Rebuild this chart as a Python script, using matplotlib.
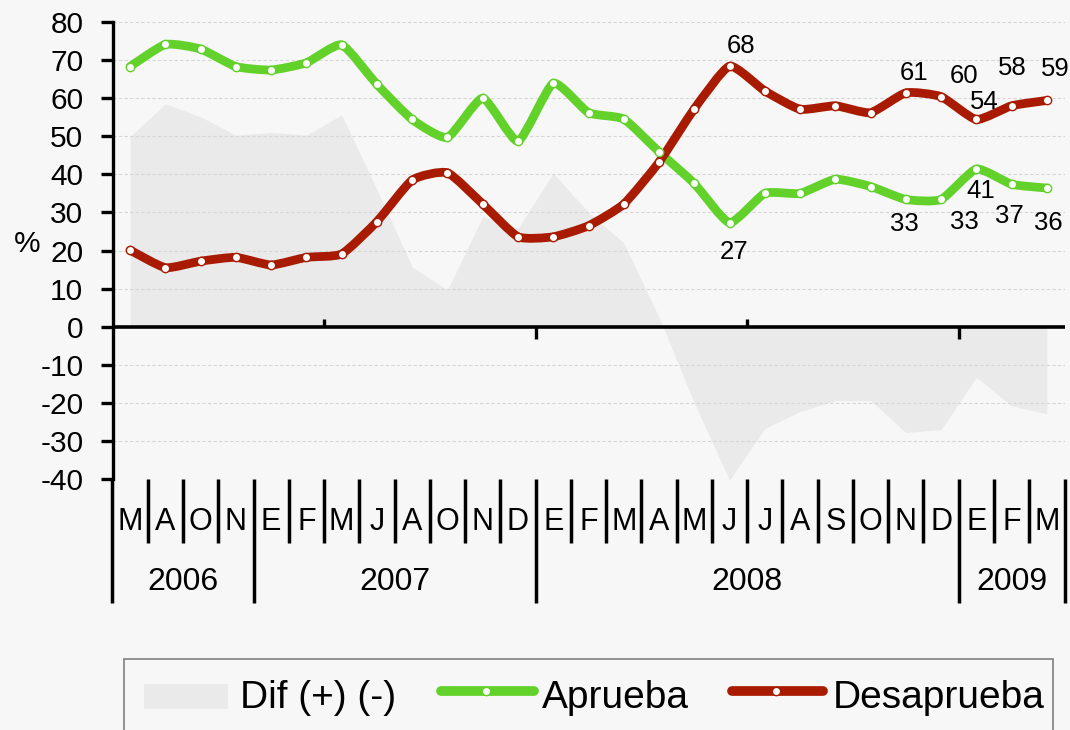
import numpy as np
import matplotlib
matplotlib.use("Agg")
import matplotlib.pyplot as plt
from matplotlib.path import Path
from matplotlib.patches import PathPatch, Rectangle
from matplotlib.lines import Line2D
from matplotlib.transforms import blended_transform_factory

plt.rcParams['font.family'] = ['Liberation Sans', 'DejaVu Sans']
plt.rcParams['axes.unicode_minus'] = False

# donnees
meses = ["M", "A", "O", "N", "E", "F", "M", "J", "A", "O", "N", "D",
         "E", "F", "M", "A", "M", "J", "J", "A", "S", "O", "N", "D",
         "E", "F", "M"]
anios = ["2006", "2007", "2008", "2009"]
meses_por_anio = [4, 8, 12, 3]

aprueba = [68.3, 74.1, 72.9, 68.3, 67.4, 69.3, 74.0, 63.6, 54.4, 49.7, 60.0, 48.7,
           63.9, 56.2, 54.5, 45.9, 37.6, 27.3, 35.0, 35.0, 38.7, 36.8, 33.4, 33.4,
           41.4, 37.4, 36.4]
desaprueba = [20.1, 15.5, 17.2, 18.2, 16.2, 18.2, 19.1, 27.6, 38.5, 40.4, 32.2, 23.6,
              23.6, 26.5, 32.2, 43.2, 57.2, 68.4, 61.9, 57.1, 58.0, 56.2, 61.4, 60.4,
              54.4, 58.0, 59.4]
dif = [49.9, 58.5, 55.1, 50.3, 51.0, 50.3, 55.6, 36.0, 15.7, 9.6, 28.9, 25.8,
       40.3, 30.0, 22.0, 2.5, -20.0, -40.3, -26.7, -22.3, -19.4, -19.4, -27.8, -27.0,
       -13.3, -20.8, -22.9]

# points etiquetes (index des mois)
etiq_idx = [17, 22, 23, 24, 25, 26]

VERT = '#62d22a'
ROUGE = '#a81b00'
GRIS = '#eaeaea'
FOND = '#f7f7f7'


def courbe_lisse(x, y, t=0.09):
    # courbe de Bezier type "ligne lissee" d'Excel
    n = len(x)
    verts = [(x[0], y[0])]
    codes = [Path.MOVETO]
    for i in range(n - 1):
        xa, ya = (x[i - 1], y[i - 1]) if i > 0 else (x[i], y[i])
        xd, yd = (x[i + 2], y[i + 2]) if i + 2 < n else (x[i + 1], y[i + 1])
        c1 = (x[i] + (x[i + 1] - xa) * t, y[i] + (y[i + 1] - ya) * t)
        c2 = (x[i + 1] - (xd - x[i]) * t, y[i + 1] - (yd - y[i]) * t)
        verts += [c1, c2, (x[i + 1], y[i + 1])]
        codes += [Path.CURVE4] * 3
    return Path(verts, codes)


W, H = 1070, 730
fig = plt.figure(figsize=(W / 100, H / 100), dpi=100, facecolor=FOND)
ax = fig.add_axes([112.5 / W, 1 - 479 / H, (1064.5 - 112.5) / W, (479 - 22) / H])
ax.set_facecolor(FOND)

x = np.arange(len(meses))
ax.set_xlim(-0.5, len(meses) - 0.5)
ax.set_ylim(-40, 80)

# zone "Dif"
ax.fill_between(x, 0, dif, color=GRIS, lw=0, zorder=0.8)

# grille
for v in range(-40, 90, 10):
    if v != 0:
        ax.axhline(v, color='#d6d6d6', lw=0.8, ls=(0, (3, 2)), zorder=1)

ax.axhline(0, color='black', lw=2.6, zorder=1.6)
ax.vlines([5.5, 17.5], 0, 2.1, color='black', lw=2.4, zorder=1.6)
ax.vlines([11.5, 23.5], -3.2, 0, color='black', lw=2.4, zorder=1.6)

for serie, col in [(aprueba, VERT), (desaprueba, ROUGE)]:
    ax.add_patch(PathPatch(courbe_lisse(x, serie), facecolor='none', edgecolor=col,
                           lw=6.3, capstyle='round', joinstyle='round', zorder=3))
    ax.plot(x, serie, 'o', ms=6, mfc='white', mec=col, mew=1.0, zorder=4)

# etiquettes de donnees
dec_rouge = [(12, 13), (8, 13), (23, 14), (8, 10), (1, 31), (8, 24)]
dec_vert = [(5, -36), (-1, -32), (23, -30), (4, -29), (-2, -39), (1, -42)]
for k, i in enumerate(etiq_idx):
    ax.annotate(f"{round(desaprueba[i])}", (i, desaprueba[i]), xytext=dec_rouge[k],
                textcoords='offset pixels', ha='center', va='baseline', fontsize=18.5, zorder=5)
    ax.annotate(f"{round(aprueba[i])}", (i, aprueba[i]), xytext=dec_vert[k],
                textcoords='offset pixels', ha='center', va='baseline', fontsize=18.5, zorder=5)

# axes
for s in ['top', 'right', 'bottom']:
    ax.spines[s].set_visible(False)
ax.spines['left'].set_linewidth(2.4)
ax.set_yticks(range(-40, 90, 10))
ax.tick_params(axis='y', direction='out', length=9.0, width=2.4, pad=12, labelsize=21.5)
ax.set_xticks([])

fig.text(27.5 / W, 1 - 244 / H, '%', fontsize=21.5, ha='center', va='center')

# axe des categories en deux niveaux
tr = blended_transform_factory(ax.transData, fig.transFigure)
y_bas = 1 - 479 / H
y_mois = 1 - 543 / H
y_an = 1 - 603 / H
bornes_an = np.cumsum([0] + meses_por_anio) - 0.5
for b in np.arange(len(meses) + 1) - 0.5:
    y_fin = y_an if b in bornes_an else y_mois
    ax.add_line(Line2D([b, b], [y_bas, y_fin], transform=tr, color='black', lw=2.5,
                       clip_on=False, solid_capstyle='butt'))
for i, m in enumerate(meses):
    ax.text(i, 1 - 530 / H, m, transform=tr, ha='center', va='baseline', fontsize=22)
for k, a in enumerate(anios):
    ax.text((bornes_an[k] + bornes_an[k + 1]) / 2, 1 - 590 / H, a, transform=tr,
            ha='center', va='baseline', fontsize=23)

# legende
fig.patches.append(Rectangle((123.5 / W, -0.05), (1053 - 123.5) / W, 0.05 + 1 - 659 / H,
                             transform=fig.transFigure, facecolor='none',
                             edgecolor='#7f7f7f', lw=1.2))
fig.patches.append(Rectangle((143.7 / W, 1 - 709 / H), (228 - 143.7) / W, 25 / H,
                             transform=fig.transFigure, facecolor=GRIS, lw=0))
y_leg = 1 - 691 / H
for x0, x1, xm, col in [(440.7, 533.7, 486, VERT), (731.5, 823, 776, ROUGE)]:
    fig.lines.append(Line2D([x0 / W, x1 / W], [y_leg, y_leg], transform=fig.transFigure,
                            color=col, lw=7, solid_capstyle='round'))
    fig.lines.append(Line2D([xm / W], [y_leg], transform=fig.transFigure, marker='o',
                            ms=6, mfc='white', mec=col, mew=1.0))
for xt, t in [(240, 'Dif (+) (-)'), (541.7, 'Aprueba'), (833, 'Desaprueba')]:
    fig.text(xt / W, 1 - 708 / H, t, fontsize=28, ha='left', va='baseline')

plt.savefig('out.png', dpi=100, facecolor=FOND)
